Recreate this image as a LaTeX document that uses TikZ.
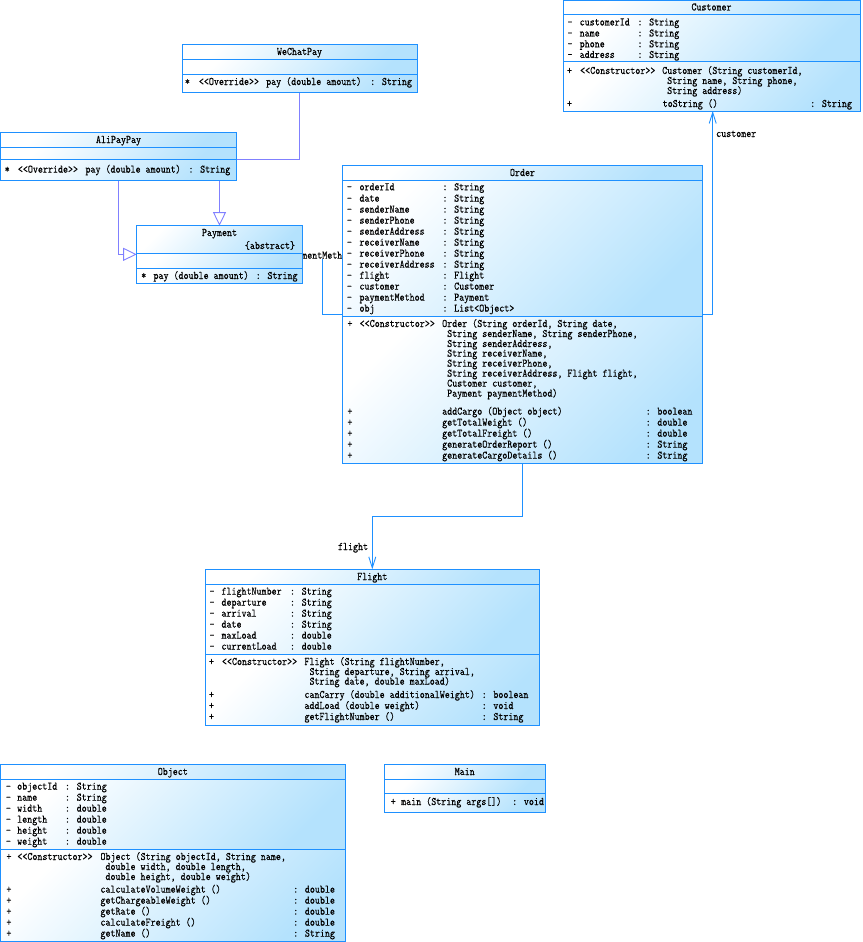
\documentclass[tikz,border=0pt]{standalone}
\usepackage{fontspec}
\usetikzlibrary{arrows.meta}
\newfontfamily\umlmono{lmmono10-regular.otf}[FakeStretch=0.83,FakeBold=0.12]
\definecolor{bordc}{RGB}{30,144,255}
\definecolor{fillB}{RGB}{180,226,253}
\definecolor{genc}{RGB}{128,128,255}
\newcommand\umlfont{\fontsize{11.5}{12}\selectfont\umlmono}
\newcommand\umlnode[5]{\node[box, minimum width={(#4)-(#2)}, minimum height={(#5)-(#3)}] (#1) at (#2,#3) {};}
\newcommand\umldraw[7]{%
  \shade[comp] (#2,#3) rectangle (#4,#6);
  \shade[comp] (#2,#6) rectangle (#4,#7);
  \shade[comp] (#2,#7) rectangle (#4,#5);
  \draw[outline] (#2,#6) -- (#4,#6);
  \draw[outline] (#2,#7) -- (#4,#7);
  \draw[outline] (#1.north west) rectangle (#1.south east);}
\newcommand\attr[6]{\node[t] at (#1,#4) {\textendash}; \node[t] at (#2,#4) {#5}; \node[t] at (#3,#4) {: #6};}
\newcommand\meth[6]{\node[t] at (#1,#4) {+}; \node[t] at (#2,#4) {#5}; \node[t] at (#3,#4) {: #6};}
\begin{document}
\begin{tikzpicture}[x=1pt,y=-1pt,
  box/.style={inner sep=0pt, outer sep=0pt, anchor=north west},
  comp/.style={top color=white, bottom color=fillB, shading angle=45},
  outline/.style={draw=bordc, line width=1pt},
  t/.style={anchor=west, inner sep=0pt, font=\umlfont, text height=6pt, text depth=0pt},
  tc/.style={t, anchor=center},
  gen/.style={draw=genc, line width=0.9pt},
  genarrow/.style={gen, -{Triangle[open, length=13.5pt, width=13pt]}},
  assoc/.style={draw=bordc, line width=0.9pt},
  assocarrow/.style={assoc, -{Straight Barb[length=11pt, width=7pt]}},
]
\useasboundingbox (0,0) rectangle (862,942);
% class frames (names)
\umlnode{customer}{563}{0.7}{860}{111}
\umlnode{wechat}{182}{44.7}{417}{92.3}
\umlnode{alipay}{0.7}{132.7}{236.3}{180}
\umlnode{payment}{136.7}{225.7}{302.3}{283}
\umlnode{order}{342.7}{165.7}{702.3}{463.3}
\umlnode{flight}{205.3}{569.3}{539.3}{725}
\umlnode{object}{0.7}{764}{345}{941}
\umlnode{main}{384.3}{764.3}{545}{812.3}
% bend coordinates
\coordinate (wb) at (299.3,159);
\coordinate (pmc) at (322.7,314);
\coordinate (pmtop) at (322.7,259);
\coordinate (cc) at (712.7,314);
\coordinate (fc) at (372.3,516);
% connectors
\node[t] (pmlabel) at (287,255.7) {paymentMethod};
\draw[gen] (wechat.south -| wb) -- (wb) -- (alipay.east |- wb);
\draw[genarrow] (alipay.south) |- (payment.west);
\draw[genarrow] (alipay.south -| payment.north) -- (payment.north);
\draw[assoc] (order.west |- pmc) -- (pmc) -- (pmtop);
\draw[assocarrow] (order.east |- cc) -- (cc) -- (cc |- customer.south);
\node[t] (custlabel) at (716,134) {customer};
\draw[assocarrow] (order.south) |- (fc) -- (flight.north);
\node[t] (flightlabel) at (337.8,547) {flight};
% boxes
\umldraw{customer}{563}{0.7}{860}{111}{15}{62}
\umldraw{wechat}{182}{44.7}{417}{92.3}{59.7}{74.3}
\umldraw{alipay}{0.7}{132.7}{236.3}{180}{147.7}{159}
\umldraw{payment}{136.7}{225.7}{302.3}{283}{253.3}{268.7}
\umldraw{order}{342.7}{165.7}{702.3}{463.3}{180.3}{316.5}
\umldraw{flight}{205.3}{569.3}{539.3}{725}{584.7}{654.7}
\umldraw{object}{0.7}{764}{345}{941}{779.3}{849.3}
\umldraw{main}{384.3}{764.3}{545}{812.3}{779.3}{793.7}
% Customer
\node[tc] at (711.5,7.5) {Customer};
\attr{567.3}{579.5}{637.3}{22.5}{customerId}{String}
\attr{567.3}{579.5}{637.3}{33.5}{name}{String}
\attr{567.3}{579.5}{637.3}{44.3}{phone}{String}
\attr{567.3}{579.5}{637.3}{55}{address}{String}
\node[t] at (566.8,71) {+};
\node[t] at (580,71) {<<Constructor>>};
\node[t] at (662,71) {Customer (String customerId,};
\node[t] at (667,81) {String name, String phone,};
\node[t] at (667,91) {String address)};
\meth{566.8}{662.5}{810}{104}{toString ()}{String}
% WeChatPay
\node[tc] at (299.5,52) {WeChatPay};
\node[t] at (184.7,82) {*};
\node[t] at (198.7,82) {<<Override>>};
\node[t] at (266,82) {pay (double amount)};
\node[t] at (370,82) {: String};
% AliPayPay
\node[tc] at (118.5,140) {AliPayPay};
\node[t] at (4.5,169.7) {*};
\node[t] at (17.7,169.7) {<<Override>>};
\node[t] at (85.3,169.7) {pay (double amount)};
\node[t] at (188.3,169.7) {: String};
% Payment
\node[tc] at (219.5,233) {Payment};
\node[t] at (244.7,246) {\{abstract\}};
\node[t] at (141,276) {*};
\node[t] at (153.3,276) {pay (double amount)};
\node[t] at (255.6,276) {: String};
% Order
\node[tc] at (522.5,173) {Order};
\attr{346.7}{359.3}{442.3}{187.3}{orderId}{String}
\attr{346.7}{359.3}{442.3}{198.7}{date}{String}
\attr{346.7}{359.3}{442.3}{209.7}{senderName}{String}
\attr{346.7}{359.3}{442.3}{220.7}{senderPhone}{String}
\attr{346.7}{359.3}{442.3}{231.7}{senderAddress}{String}
\attr{346.7}{359.3}{442.3}{242.7}{receiverName}{String}
\attr{346.7}{359.3}{442.3}{253.7}{receiverPhone}{String}
\attr{346.7}{359.3}{442.3}{264.7}{receiverAddress}{String}
\attr{346.7}{359.3}{442.3}{275.7}{flight}{Flight}
\attr{346.7}{359.3}{442.3}{286.7}{customer}{Customer}
\attr{346.7}{359.3}{442.3}{297.7}{paymentMethod}{Payment}
\attr{346.7}{359.3}{442.3}{308.7}{obj}{List<Object>}
\node[t] at (347.2,324) {+};
\node[t] at (359.5,324) {<<Constructor>>};
\node[t] at (442,324) {Order (String orderId, String date,};
\node[t] at (447,334) {String senderName, String senderPhone,};
\node[t] at (447,344) {String senderAddress,};
\node[t] at (447,353.7) {String receiverName,};
\node[t] at (447,363.7) {String receiverPhone,};
\node[t] at (447,373.7) {String receiverAddress, Flight flight,};
\node[t] at (447,383.7) {Customer customer,};
\node[t] at (447,393.7) {Payment paymentMethod)};
\meth{347.2}{442}{645.5}{411.7}{addCargo (Object object)}{boolean}
\meth{347.2}{442}{645.5}{422.7}{getTotalWeight ()}{double}
\meth{347.2}{442}{645.5}{433.7}{getTotalFreight ()}{double}
\meth{347.2}{442}{645.5}{444.7}{generateOrderReport ()}{String}
\meth{347.2}{442}{645.5}{455.7}{generateCargoDetails ()}{String}
% Flight
\node[tc] at (372.3,577) {Flight};
\attr{209.3}{221.3}{289.8}{591.7}{flightNumber}{String}
\attr{209.3}{221.3}{289.8}{602.7}{departure}{String}
\attr{209.3}{221.3}{289.8}{613.7}{arrival}{String}
\attr{209.3}{221.3}{289.8}{624.7}{date}{String}
\attr{209.3}{221.3}{289.8}{635.7}{maxLoad}{double}
\attr{209.3}{221.3}{289.8}{646.7}{currentLoad}{double}
\node[t] at (208.8,662) {+};
\node[t] at (221.8,662) {<<Constructor>>};
\node[t] at (304.3,662) {Flight (String flightNumber,};
\node[t] at (309.3,672) {String departure, String arrival,};
\node[t] at (309.3,681.7) {String date, double maxLoad)};
\meth{208.8}{304.3}{481.5}{695}{canCarry (double additionalWeight)}{boolean}
\meth{208.8}{304.3}{481.5}{706}{addLoad (double weight)}{void}
\meth{208.8}{304.3}{481.5}{717}{getFlightNumber ()}{String}
% Object
\node[tc] at (172.8,772) {Object};
\attr{5.7}{17}{64.8}{786.7}{objectId}{String}
\attr{5.7}{17}{64.8}{797.7}{name}{String}
\attr{5.7}{17}{64.8}{808.7}{width}{double}
\attr{5.7}{17}{64.8}{819.7}{length}{double}
\attr{5.7}{17}{64.8}{830.7}{height}{double}
\attr{5.7}{17}{64.8}{841.7}{weight}{double}
\node[t] at (6.2,857) {+};
\node[t] at (17.2,857) {<<Constructor>>};
\node[t] at (100.3,857) {Object (String objectId, String name,};
\node[t] at (105.3,867) {double width, double length,};
\node[t] at (105.3,877) {double height, double weight)};
\meth{6.2}{100.3}{293}{889.7}{calculateVolumeWeight ()}{double}
\meth{6.2}{100.3}{293}{900.7}{getChargeableWeight ()}{double}
\meth{6.2}{100.3}{293}{911.7}{getRate ()}{double}
\meth{6.2}{100.3}{293}{922.7}{calculateFreight ()}{double}
\meth{6.2}{100.3}{293}{933.7}{getName ()}{String}
% Main
\node[tc] at (464.7,772) {Main};
\meth{390.5}{401}{512}{802}{main (String args[])}{void}
\end{tikzpicture}
\end{document}
